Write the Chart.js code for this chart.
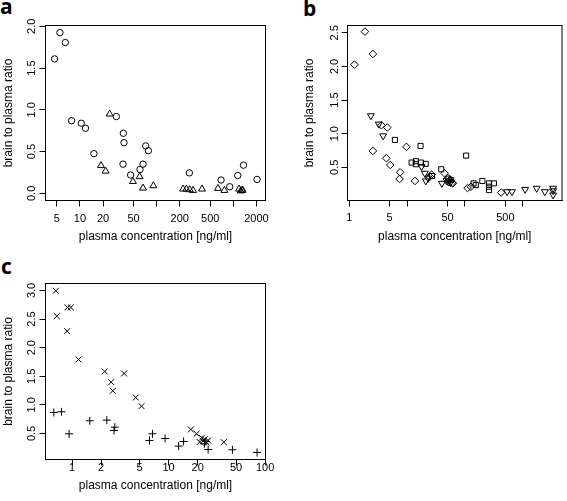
<!DOCTYPE html>
<html><head><meta charset="utf-8">
<script src="https://cdn.jsdelivr.net/npm/chart.js@4/dist/chart.umd.min.js"></script>
<style>
html,body{margin:0;padding:0;background:#fff;}
body{width:567px;height:501px;position:relative;overflow:hidden;}
canvas{position:absolute;}
.lab{position:absolute;font-family:"Open Sans","Liberation Sans",sans-serif;font-weight:bold;font-size:21px;line-height:21px;color:#000;}
</style></head><body>
<div class="lab" style="left:0px;top:-4px">a</div>
<div class="lab" style="left:303px;top:-2px">b</div>
<div class="lab" style="left:1px;top:256px">c</div>
<canvas id="ca" width="283" height="250" style="left:0;top:0;width:283px;height:250px"></canvas>
<canvas id="cb" width="284" height="250" style="left:283px;top:0;width:284px;height:250px"></canvas>
<canvas id="cc" width="283" height="251" style="left:0;top:250px;width:283px;height:251px"></canvas>
<script>
// ---------- data ----------
const xTitle = 'plasma concentration [ng/ml]';
const yTitle = 'brain to plasma ratio';

// panel a
const aTicksX = [5, 10, 20, 50, 100, 200, 500, 1000, 2000];
const aLabelsX = ['5', '10', '20', '50', '', '200', '500', '', '2000'];
const aTicksY = [0, 0.5, 1, 1.5, 2];
const aCircles = [[4.67,1.61],[5.47,1.925],[6.44,1.806],[7.78,0.87],[10.4,0.84],[11.8,0.78],[15.2,0.476],
  [29.8,0.92],[36.8,0.72],[37.5,0.607],[36.4,0.35],[45.8,0.22],[60.6,0.286],[66.4,0.35],[72,0.568],[78,0.512],
  [267,0.246],[692,0.16],[898,0.08],[1143,0.214],[1356,0.338],[2040,0.167]];
const aTriangles = [[24.4,0.95],[18.8,0.333],[21.6,0.267],[49.1,0.143],[60,0.2],[66.4,0.064],[90.7,0.092],
  [221,0.052],[244,0.052],[270,0.044],[298,0.036],[391,0.052],[631,0.06],[765,0.036],[1188,0.052],
  [1301,0.036],[1250,0.03],[1320,0.04]];

// panel b
const bTicksX = [1, 5, 10, 50, 100, 500, 1000];
const bLabelsX = ['1', '5', '', '50', '', '500', ''];
const bTicksY = [0.5, 1, 1.5, 2, 2.5];
const bDiamonds = [[1.23,2.027],[1.87,2.519],[2.57,2.186],[2.57,0.743],[3.6,1.125],[4.56,1.091],[4.39,0.634],
  [5.13,0.534],[7.6,0.425],[7.41,0.325],[9.75,0.803],[13.7,0.296],[24.7,0.36],[26.5,0.39],[44.5,0.41],
  [50.7,0.34],[55,0.31],[60,0.27],[62,0.26],[111,0.19],[127,0.21],[423,0.124]];
const bSquares = [[6.17,0.907],[17.1,0.818],[105,0.673],[12.0,0.57],[14.2,0.59],[14.2,0.545],[17.3,0.57],
  [21,0.55],[27,0.37],[39,0.47],[52,0.33],[58,0.31],[141,0.26],[154,0.236],[200,0.296],[261,0.26],
  [261,0.21],[261,0.16],[317,0.26]];
const bInvTriangles = [[2.37,1.266],[3.25,1.142],[3.85,0.967],[17.8,0.509],[20.3,0.41],[21.1,0.296],
  [23.1,0.336],[40,0.26],[48,0.30],[52,0.28],[56,0.27],[535,0.136],[651,0.136],[1097,0.17],[1740,0.187],
  [2404,0.136],[3345,0.187],[3345,0.15],[3345,0.087]];

// panel c
const cTicksX = [1, 2, 5, 10, 20, 50, 100];
const cLabelsX = ['1', '2', '5', '10', '20', '50', '100'];
const cTicksY = [0.5, 1, 1.5, 2, 2.5, 3];
const cCrosses = [[0.678,2.995],[0.694,2.551],[0.896,2.703],[0.97,2.703],[0.888,2.289],[1.165,1.794],
  [2.18,1.584],[2.54,1.397],[2.64,1.246],[3.46,1.549],[4.57,1.129],[5.24,0.978],[17,0.57],[19.5,0.494],
  [22.1,0.425],[22.8,0.365],[23.7,0.40],[24.7,0.348],[25.7,0.378],[21,0.35],[37.3,0.348]];
const cPluses = [[0.646,0.867],[0.776,0.879],[0.931,0.494],[1.525,0.722],[2.29,0.733],[2.77,0.61],
  [2.72,0.552],[6.34,0.378],[6.81,0.494],[9.2,0.412],[12.7,0.279],[14.3,0.36],[23.5,0.32],[24.3,0.36],
  [25.7,0.22],[45.9,0.215],[82.6,0.168]];

// ---------- drawing ----------
const FONT = '"Liberation Sans", Arial, Helvetica, sans-serif';
Chart.defaults.font.family = FONT;
Chart.defaults.color = '#000';
const yFmt = v => Number(v).toFixed(1);

const boxPlugin = {
  id: 'box',
  afterDraw(chart) {
    const a = chart.chartArea, ctx = chart.ctx;
    ctx.save();
    ctx.strokeStyle = '#000'; ctx.lineWidth = 1;
    ctx.strokeRect(a.left, a.top, a.right - a.left, a.bottom - a.top);
    ctx.restore();
  }
};

// y tick labels, rotated like R's default (reading upwards), placed at the y scale's tick pixels
const yLabelPlugin = {
  id: 'ylabels',
  afterDraw(chart, args, opts) {
    const s = chart.scales.y, ctx = chart.ctx, x = chart.chartArea.left - opts.offset;
    ctx.save();
    ctx.font = '11px ' + FONT;
    ctx.fillStyle = '#000'; ctx.textAlign = 'center'; ctx.textBaseline = 'middle';
    s.ticks.forEach(t => {
      ctx.save();
      ctx.translate(x, s.getPixelForValue(t.value));
      ctx.rotate(-Math.PI / 2);
      ctx.fillText(yFmt(t.value), 0, 0);
      ctx.restore();
    });
    ctx.restore();
  }
};

function ds(points, style, radius, rot) {
  return {
    data: points.map(p => ({x: p[0], y: p[1]})),
    pointStyle: style, pointRadius: radius, pointRotation: rot || 0,
    pointBorderColor: '#000', pointBackgroundColor: 'rgba(0,0,0,0)', pointBorderWidth: 1,
    borderColor: '#000', backgroundColor: 'rgba(0,0,0,0)', showLine: false
  };
}

function panel(id, W, H, area, xr, yr, xT, xL, yT, sets, yTitlePad, xTitlePad, yLabOffset, xTickPad) {
  new Chart(document.getElementById(id), {
    type: 'scatter',
    data: {datasets: sets},
    options: {
      responsive: false, animation: false, devicePixelRatio: 1,
      layout: {padding: {left: 0, top: area.t, right: W - area.r, bottom: 0}},
      plugins: {legend: {display: false}, tooltip: {enabled: false}, ylabels: {offset: yLabOffset}},
      scales: {
        x: {
          type: 'logarithmic', min: xr[0], max: xr[1],
          afterBuildTicks: s => { s.ticks = xT.map(v => ({value: v})); },
          afterFit: s => { s.height = H - area.b; s.paddingLeft = 0; s.paddingRight = 0; },
          ticks: {autoSkip: false, maxRotation: 0, minRotation: 0, color: '#000', font: {size: 11}, padding: xTickPad,
                  callback: (v, i) => xL[i]},
          grid: {drawOnChartArea: false, drawTicks: true, tickLength: 6, color: '#000', lineWidth: 1},
          border: {display: true, color: '#000', width: 1},
          title: {display: true, text: xTitle, color: '#000', font: {size: 12}, padding: {top: 0, bottom: xTitlePad}}
        },
        y: {
          type: 'linear', min: yr[0], max: yr[1],
          afterBuildTicks: s => { s.ticks = yT.map(v => ({value: v})); },
          afterFit: s => { s.width = area.l; s.paddingTop = 0; s.paddingBottom = 0; },
          ticks: {display: false, callback: v => yFmt(v)},
          grid: {drawOnChartArea: false, drawTicks: true, tickLength: 6, color: '#000', lineWidth: 1},
          border: {display: true, color: '#000', width: 1},
          title: {display: true, text: yTitle, color: '#000', font: {size: 12}, padding: {top: yTitlePad, bottom: 0}}
        }
      }
    },
    plugins: [boxPlugin, yLabelPlugin]
  });
}

panel('ca', 283, 250, {l: 45.5, r: 265.5, t: 25.5, b: 200.5}, [3.55, 2630], [-0.085, 2.01],
  aTicksX, aLabelsX, aTicksY,
  [ds(aCircles, 'circle', 3.2), ds(aTriangles, 'triangle', 4)], 1.5, 6.3, 14, 5.9);

panel('cb', 284, 250, {l: 64.5, r: 282.5, t: 25.5, b: 200.5}, [0.935, 4760], [0.005, 2.61],
  bTicksX, bLabelsX, bTicksY,
  [ds(bDiamonds, 'rectRot', 3.8), ds(bSquares, 'rect', 3.6), ds(bInvTriangles, 'triangle', 4, 180)], 19.8, 6.3, 12.5, 5.2);

panel('cc', 283, 251, {l: 45.5, r: 265.5, t: 33.5, b: 209.5}, [0.53, 101], [0.045, 3.122],
  cTicksX, cLabelsX, cTicksY,
  [ds(cCrosses, 'crossRot', 4.2), ds(cPluses, 'cross', 4)], 1.5, 8.3, 14, -3.8);
</script>
</body></html>
